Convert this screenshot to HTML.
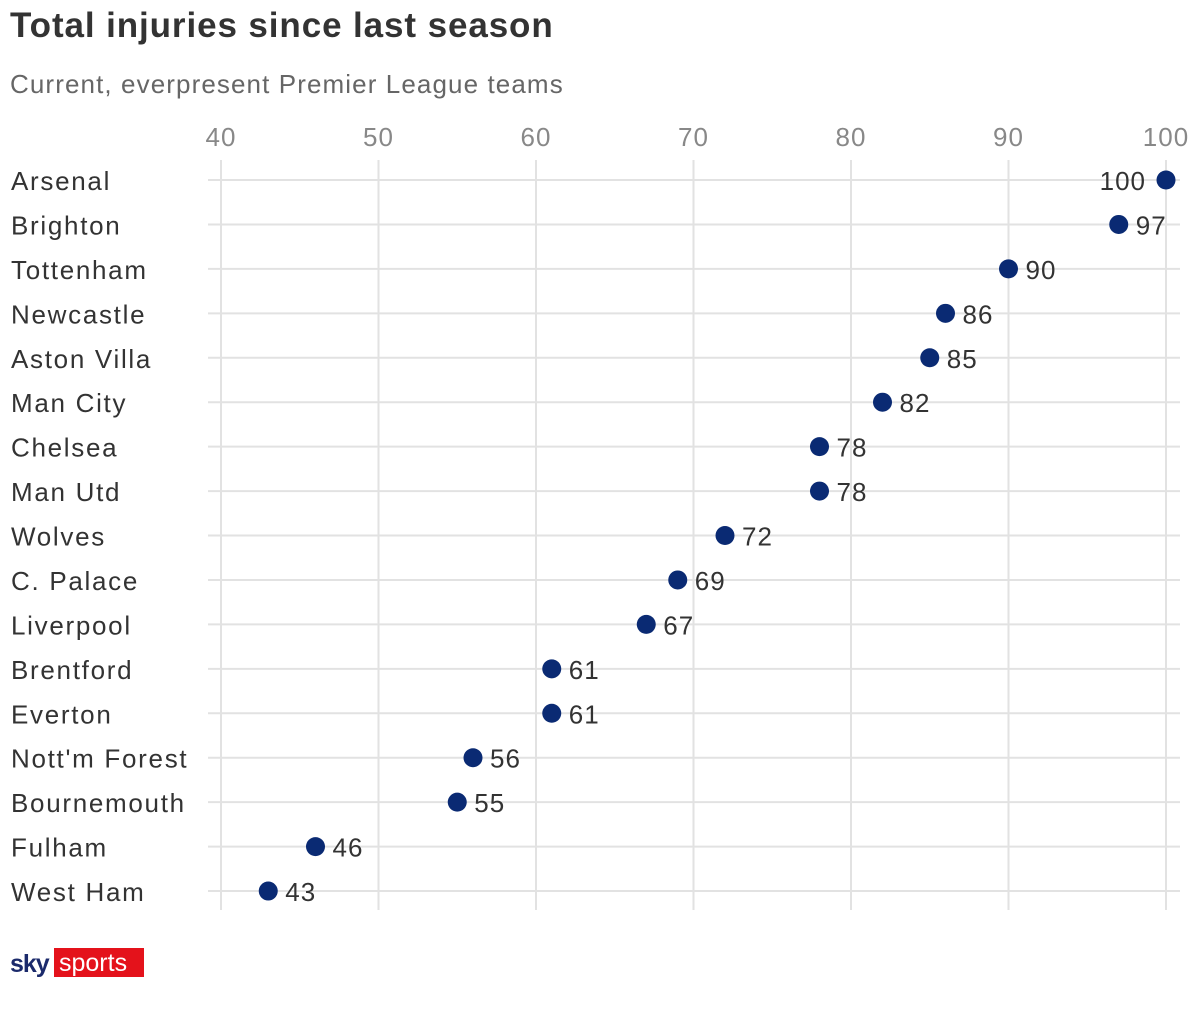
<!DOCTYPE html>
<html><head><meta charset="utf-8"><style>
body{margin:0;background:#fff;width:1200px;height:1030px;overflow:hidden;font-family:"Liberation Sans",sans-serif}
</style></head><body>
<svg width="1200" height="1030">
<text x="10" y="37" font-size="35" font-weight="bold" fill="#333" letter-spacing="0.9">Total injuries since last season</text>
<text x="10" y="93" font-size="26" fill="#666" letter-spacing="1.1">Current, everpresent Premier League teams</text>
<g id="grid"></g><g id="marks"></g>
<g>
<text x="10" y="972" font-size="25" font-weight="bold" fill="#1b2a6b" letter-spacing="-1">sky</text>
<rect x="54" y="948" width="90" height="29" fill="#e4121b"/>
<text x="59" y="971" font-size="25" fill="#fff">sports</text>
</g>
</svg>
<script>
const teams=["Arsenal","Brighton","Tottenham","Newcastle","Aston Villa","Man City","Chelsea","Man Utd","Wolves","C. Palace","Liverpool","Brentford","Everton","Nott'm Forest","Bournemouth","Fulham","West Ham"];
const values=[100,97,90,86,85,82,78,78,72,69,67,61,61,56,55,46,43];
const ticks=[40,50,60,70,80,90,100];
const NS="http://www.w3.org/2000/svg";
const x=v=>221+(v-40)*15.75;
const y=i=>180+i*44.44;
const grid=document.getElementById('grid'),marks=document.getElementById('marks');
function mk(tag,attrs,parent,txt){const e=document.createElementNS(NS,tag);for(const k in attrs)e.setAttribute(k,attrs[k]);if(txt!==undefined)e.textContent=txt;parent.appendChild(e);return e;}
ticks.forEach(t=>{
 const l=mk('line',{x1:x(t),x2:x(t),y1:160,y2:910,stroke:'#e2e2e2','stroke-width':2},grid);
 
 
 const tx=mk('text',{x:x(t),y:146,'font-size':26,fill:'#888','text-anchor':'middle','letter-spacing':1},grid,t);
 
 
});
teams.forEach((n,i)=>{
 const l=mk('line',{x1:208,x2:1180,y1:y(i),y2:y(i),stroke:'#e2e2e2','stroke-width':2},grid);
 
 
 const lb=mk('text',{x:11,y:y(i)+10,'font-size':26,fill:'#333','letter-spacing':1.7},grid,n);
 
 
 const c=mk('circle',{cx:x(values[i]),cy:y(i),r:9.5,fill:'#0a2a73'},marks);
 
 
 const left=values[i]>=100;
 const v=mk('text',{x:left?x(values[i])-20:x(values[i])+17,y:y(i)+10,'font-size':26,fill:'#333','text-anchor':left?'end':'start','letter-spacing':1},marks,values[i]);
 
 
});
</script>
</body></html>
